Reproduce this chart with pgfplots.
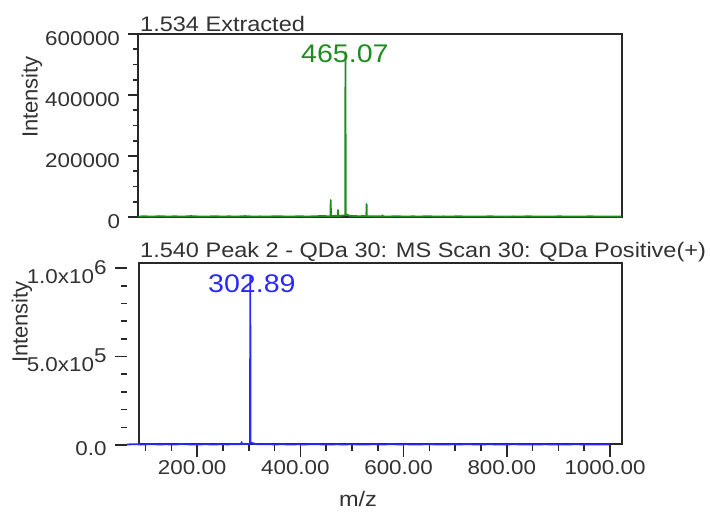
\documentclass[border=0pt]{standalone}
\usepackage{fontspec}
\setmainfont[FakeStretch=1.12]{Liberation Sans}
\newfontfamily\plainfont{Liberation Sans}
\usepackage{pgfplots}
\usepackage{pgfplotstable}
\pgfplotsset{compat=1.18}
\definecolor{specgreen}{RGB}{30,140,30}
\definecolor{specblue}{RGB}{40,40,255}
\definecolor{axgray}{RGB}{40,40,40}
\definecolor{txtgray}{RGB}{50,50,50}
\newcommand\tickfont{\fontsize{20}{20}\selectfont}
\newcommand\titlefont{\fontsize{21}{21}\selectfont}
\newcommand\peakfont{\fontsize{25.5}{26}\selectfont}
\newcommand\labelfont{\plainfont\fontsize{22}{22}\selectfont}

\pgfplotstableread{
x y
64 1500
75 2500
90 1200
105 2800
120 1600
135 2200
150 1400
165 3000
180 1800
195 1300
210 2600
225 1700
240 2100
255 1500
270 2900
285 1600
300 2000
315 1400
330 2700
345 1900
360 1500
375 2400
390 1700
405 2200
420 3500
430 2500
436 2000
436.5 55700
437 2500
445 4000
450 2500
450.6 23000
451.2 3000
458 4500
464.5 5000
465.07 540000
465.6 6000
468 8000
472 4000
480 3500
490 2500
500 3000
505.5 2500
506 42600
506.5 2500
515 2200
525 2000
536.5 2000
537 5500
537.5 2000
550 1800
565 2400
580 1500
595 2100
610 1700
625 2600
640 1400
655 2000
670 1600
685 2500
700 1300
715 1900
730 1500
745 2300
760 1600
775 1200
790 2000
805 1500
820 2400
835 1300
850 1800
865 1500
880 2200
895 1400
910 1900
925 1600
940 2300
955 1400
970 1800
985 1500
1000 2000
}\topdata

\pgfplotstableread{
x y
64 3000
80 4500
95 2500
110 5000
125 3000
140 4000
155 2500
170 5500
185 3500
200 2500
215 4500
230 3000
245 4000
260 3500
272 5000
280 4500
285.5 4000
286 17000
286.5 5000
294 6000
300 5000
302.4 6000
302.89 950000
303.4 9000
306 12000
312 6000
320 4000
335 5000
350 3000
365 4500
380 2500
395 4000
410 3000
425 5000
440 3500
455 2500
470 4000
485 3000
500 4500
515 2500
530 3500
545 4000
560 2500
575 5000
590 3000
605 4000
620 2500
635 3500
650 4500
665 3000
680 2500
695 4000
710 3000
725 5000
740 2500
755 3500
770 4000
785 2500
800 3000
815 4500
830 2500
845 3500
860 3000
875 4000
890 2500
905 3500
920 3000
935 4500
950 2500
965 3500
980 3000
1000 2500
}\botdata

\begin{document}
\begin{tikzpicture}
\useasboundingbox (0,0) rectangle (710pt,512pt);
% ---------- top panel ----------
\begin{axis}[at={(138.5pt,295pt)}, anchor=south west, scale only axis,
  width=483pt, height=183pt,
  xmin=64, xmax=1000, ymin=0, ymax=600000,
  axis line style={draw=axgray, line width=2pt},
  xtick=\empty,
  ytick={0,200000,400000,600000},
  yticklabels={0,200000,400000,600000},
  minor ytick={50000,100000,150000,250000,300000,350000,450000,500000,550000},
  ytick pos=left, tick align=outside,
  major tick length=10pt, minor tick length=5pt,
  tick style={axgray, line width=1.6pt},
  yticklabel style={font=\tickfont, text=txtgray, yshift=-5pt, xshift=-5pt},
  scaled y ticks=false, clip=false]
\addplot[specgreen, line width=1.8pt, line join=round] table {\topdata};
\node[specgreen, font=\peakfont, anchor=base, inner sep=0pt] at (axis cs:464,508000) {465.07};
\end{axis}
% ---------- bottom panel: frame ----------
\begin{axis}[at={(138.5pt,68pt)}, anchor=south west, scale only axis,
  width=483pt, height=181pt,
  xmin=0, xmax=1, ymin=0, ymax=1,
  axis line style={draw=axgray, line width=2pt},
  xtick=\empty, ytick=\empty]
\end{axis}
% ---------- bottom panel: data ----------
\begin{axis}[at={(127pt,67pt)}, anchor=south west, scale only axis,
  width=483pt, height=177pt,
  xmin=64, xmax=1000, ymin=0, ymax=1000000,
  axis x line=bottom, axis y line=left,
  axis line style={draw=none},
  xtick={200,400,600,800,1000},
  xticklabels={200.00,400.00,600.00,800.00,1000.00},
  minor xtick={100,150,250,300,350,450,500,550,650,700,750,850,900,950},
  ytick={0,500000,1000000},
  yticklabels={0.0,{5.0x10\raisebox{9pt}{5}},{1.0x10\raisebox{9pt}{6}}},
  minor ytick={100000,200000,300000,400000,600000,700000,800000,900000},
  tick align=outside,
  major tick length=12pt, minor tick length=6pt,
  tick style={axgray, line width=1.6pt},
  yticklabel style={font=\tickfont, text=txtgray, yshift=-4pt, xshift=-5pt},
  xticklabel style={font=\tickfont, text=txtgray, xshift=-5pt},
  scaled y ticks=false, scaled x ticks=false, clip=false]
\addplot[specblue, line width=1.8pt, line join=round] table {\botdata};
\node[specblue, font=\peakfont, anchor=base, inner sep=0pt] at (axis cs:306,864000) {302.89};
\end{axis}
% ---------- titles and labels ----------
\node[anchor=base west, inner sep=0pt, font=\titlefont, text=txtgray] at (140pt,480pt) {1.534 Extracted};
\node[anchor=base west, inner sep=0pt, font=\titlefont, text=txtgray] at (140pt,254pt) {1.540 Peak 2 - QDa 30: MS Scan 30: QDa Positive(+)};
\node[rotate=90, inner sep=0pt, font=\labelfont, text=txtgray] at (32pt,415pt) {Intensity};
\node[rotate=90, inner sep=0pt, font=\labelfont, text=txtgray] at (22pt,190pt) {Intensity};
\node[inner sep=0pt, font=\titlefont, text=txtgray] at (358pt,13pt) {m/z};
\end{tikzpicture}
\end{document}
